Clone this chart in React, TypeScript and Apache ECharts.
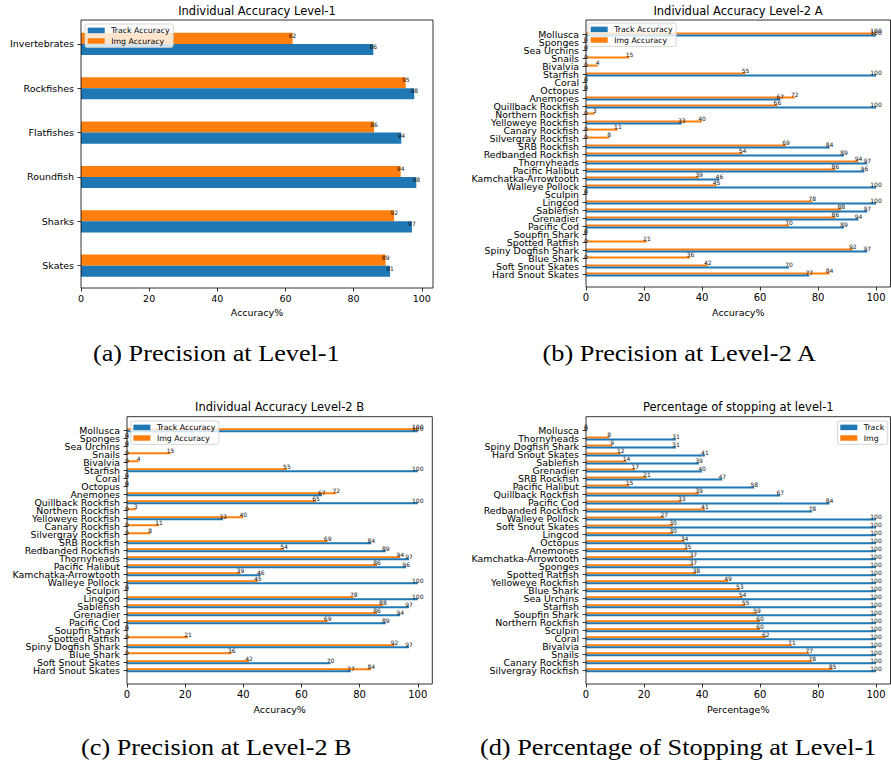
import React, { useEffect, useRef } from 'react';
import * as echarts from 'echarts';

// ---------------- data ----------------
const level1Categories = ['Invertebrates', 'Rockfishes', 'Flatfishes', 'Roundfish', 'Sharks', 'Skates'];
const level1Track = [85.8, 97.8, 94.0, 98.4, 97.1, 90.7];
const level1Img = [62.1, 95.3, 86.0, 93.8, 91.9, 89.4];

const level2Categories = [
  'Mollusca', 'Sponges', 'Sea Urchins', 'Snails', 'Bivalvia', 'Starfish', 'Coral', 'Octopus', 'Anemones',
  'Quillback Rockfish', 'Northern Rockfish', 'Yelloweye Rockfish', 'Canary Rockfish', 'Silvergray Rockfish',
  'SRB Rockfish', 'Redbanded Rockfish', 'Thornyheads', 'Pacific Halibut', 'Kamchatka-Arrowtooth',
  'Walleye Pollock', 'Sculpin', 'Lingcod', 'Sablefish', 'Grenadier', 'Pacific Cod', 'Soupfin Shark',
  'Spotted Ratfish', 'Spiny Dogfish Shark', 'Blue Shark', 'Soft Snout Skates', 'Hard Snout Skates',
];
const level2ATrack = [100, 0, 0, 0, 0, 100, 0, 0, 67, 100, 0, 33, 0, 0, 84, 89, 97, 96, 46, 100, 0, 100, 97, 94, 89, 0, 0, 97, 0, 70, 77];
const level2AImg = [100, 0, 0, 15, 4, 55, 0, 0, 72, 66, 3, 40, 11, 8, 69, 54, 94, 86, 39, 45, 0, 78, 88, 86, 70, 0, 21, 92, 36, 42, 84];
const level2BTrack = [100, 0, 0, 0, 0, 100, 0, 0, 67, 100, 0, 33, 0, 0, 84, 89, 97, 96, 46, 100, 0, 100, 97, 94, 89, 0, 0, 97, 0, 70, 77];
const level2BImg = [100, 0, 0, 15, 4, 55, 0, 0, 72, 65, 3, 40, 11, 8, 69, 54, 94, 86, 39, 45, 0, 78, 88, 86, 69, 0, 21, 92, 36, 42, 84];

const stopCategories = [
  'Mollusca', 'Thornyheads', 'Spiny Dogfish Shark', 'Hard Snout Skates', 'Sablefish', 'Grenadier',
  'SRB Rockfish', 'Pacific Halibut', 'Quillback Rockfish', 'Pacific Cod', 'Redbanded Rockfish',
  'Walleye Pollock', 'Soft Snout Skates', 'Lingcod', 'Octopus', 'Anemones', 'Kamchatka-Arrowtooth',
  'Sponges', 'Spotted Ratfish', 'Yelloweye Rockfish', 'Blue Shark', 'Sea Urchins', 'Starfish',
  'Soupfin Shark', 'Northern Rockfish', 'Sculpin', 'Coral', 'Bivalvia', 'Snails', 'Canary Rockfish',
  'Silvergray Rockfish',
];
const stopTrack = [0, 31, 31, 41, 39, 40, 47, 58, 67, 84, 78, 100, 100, 100, 100, 100, 100, 100, 100, 100, 100, 100, 100, 100, 100, 100, 100, 100, 100, 100, 100];
const stopImg = [0, 8, 9, 12, 14, 17, 21, 15, 39, 33, 41, 27, 30, 30, 34, 35, 37, 37, 38, 49, 53, 54, 55, 59, 60, 60, 62, 71, 77, 78, 85];

const xTickValues = [0, 20, 40, 60, 80, 100];

const panelTitles = [
  'Individual Accuracy Level-1',
  'Individual Accuracy Level-2 A',
  'Individual Accuracy Level-2 B',
  'Percentage of stopping at level-1',
];
const axisNames = ['Accuracy%', 'Accuracy%', 'Accuracy%', 'Percentage%'];
const captions = [
  '(a) Precision at Level-1',
  '(b) Precision at Level-2 A',
  '(c) Precision at Level-2 B',
  '(d) Percentage of Stopping at Level-1',
];
const accLegend = ['Track Accuracy', 'Img Accuracy'];
const stopLegend = ['Track', 'Img'];

// ---------------- layout / style ----------------
const W = 891;
const H = 764;
const BLUE = '#1f77b4';
const ORANGE = '#ff7f0e';
const SANS = 'DejaVu Sans';
const SERIF = 'Liberation Serif';

type Layout = {
  frame: [number, number, number, number];
  firstTick: number;
  lastTick: number;
  xMax: number;
  yFont: number;
  xFont: number;
  legend: any;
  titleX: number;
  titleY: number;
  nameY: number;
};

const layouts: Layout[] = [
  { frame: [81, 20, 433, 288], firstTick: 43.9, lastTick: 265.7, xMax: 103.3, yFont: 9.5, xFont: 9.5, legend: { left: 85, top: 24 }, titleX: 257, titleY: 11, nameY: 312.5 },
  { frame: [586, 20, 890.5, 287], firstTick: 34.6, lastTick: 274.6, xMax: 105, yFont: 9.4, xFont: 10, legend: { left: 588, top: 23 }, titleX: 738, titleY: 11, nameY: 312.5 },
  { frame: [127, 416.7, 432.3, 684], firstTick: 430.3, lastTick: 670.2, xMax: 105, yFont: 9.4, xFont: 10, legend: { left: 130.7, top: 421 }, titleX: 279.6, titleY: 406.7, nameY: 709 },
  { frame: [586, 416.7, 890.5, 684], firstTick: 430.5, lastTick: 670.2, xMax: 105, yFont: 9.4, xFont: 10, legend: { right: 3.3, top: 421 }, titleX: 738.3, titleY: 406.7, nameY: 709 },
];

const captionPos = [
  { cx: 216.3, w: 247, y: 353.5 },
  { cx: 679.2, w: 275, y: 353.5 },
  { cx: 216.3, w: 270.5, y: 747.5 },
  { cx: 678.2, w: 397, y: 747.5 },
];

const panelData = [
  { cats: level1Categories, track: level1Track, img: level1Img, names: accLegend },
  { cats: level2Categories, track: level2ATrack, img: level2AImg, names: accLegend },
  { cats: level2Categories, track: level2BTrack, img: level2BImg, names: accLegend },
  { cats: stopCategories, track: stopTrack, img: stopImg, names: stopLegend },
];

function measureWidth(text: string, font: string): number {
  const c = document.createElement('canvas').getContext('2d');
  if (!c) return 0;
  c.font = font;
  return c.measureText(text).width;
}

function buildOption() {
  const grid: any[] = [];
  const xAxis: any[] = [];
  const yAxis: any[] = [];
  const series: any[] = [];
  const legend: any[] = [];
  const graphic: any[] = [];

  layouts.forEach((L, i) => {
    const d = panelData[i];
    const n = d.cats.length;
    const band = (L.lastTick - L.firstTick) / (n - 1);
    const gTop = L.firstTick - band / 2;
    const gBottom = L.lastTick + band / 2;
    const [fl, ft, fr, fb] = L.frame;
    grid.push({ left: fl, right: W - fr, top: gTop, bottom: H - gBottom, containLabel: false });
    xAxis.push({
      type: 'value',
      gridIndex: i,
      min: 0,
      max: L.xMax,
      offset: fb - gBottom,
      axisLine: { show: false },
      splitLine: { show: false },
      axisTick: { show: true, length: 3.5, customValues: xTickValues, lineStyle: { color: '#000', width: 0.8 } },
      axisLabel: { customValues: xTickValues, fontSize: L.xFont, fontFamily: SANS, color: '#000', margin: 5.3 },
    });
    yAxis.push({
      type: 'category',
      gridIndex: i,
      inverse: true,
      data: d.cats,
      axisLine: { show: false },
      axisTick: { show: true, alignWithLabel: true, length: 3.5, lineStyle: { color: '#000', width: 0.8 } },
      axisLabel: { interval: 0, fontSize: L.yFont, fontFamily: SANS, color: '#000', margin: 7 },
      splitLine: { show: false },
    });
    const barW = band * 0.25;
    const label = {
      show: true,
      position: ['100%', '50%'],
      align: 'center',
      verticalAlign: 'bottom',
      fontSize: 6,
      fontFamily: SANS,
      color: '#111',
      formatter: (p: any) => String(Math.round(p.value)),
    };
    series.push({
      type: 'bar', name: d.names[1], data: d.img, xAxisIndex: i, yAxisIndex: i,
      barWidth: barW, barGap: '0%', itemStyle: { color: ORANGE }, label, emphasis: { disabled: true },
    });
    series.push({
      type: 'bar', name: d.names[0], data: d.track, xAxisIndex: i, yAxisIndex: i,
      barWidth: barW, barGap: '0%', itemStyle: { color: BLUE }, label, emphasis: { disabled: true },
    });
    legend.push({
      ...L.legend,
      data: d.names,
      orient: 'vertical',
      icon: 'rect',
      itemWidth: 17,
      itemHeight: 5.5,
      itemGap: 2.6,
      padding: [2.4, 3.5, 2.4, 2.7],
      backgroundColor: 'rgba(255,255,255,0.8)',
      borderColor: '#cccccc',
      borderWidth: 0.8,
      borderRadius: 2,
      selectedMode: false,
      textStyle: { fontSize: 7.8, fontFamily: SANS, color: '#000', padding: [0, 0, 0, 1.5] },
    });
    // frame
    graphic.push({
      type: 'rect', z: 100, silent: true,
      shape: { x: fl, y: ft, width: fr - fl, height: fb - ft },
      style: { fill: 'none', stroke: '#000', lineWidth: 0.8 },
    });
    // title
    graphic.push({
      type: 'text', z: 100, silent: true, x: L.titleX, y: L.titleY,
      style: { text: panelTitles[i], fontSize: 11.5, fontFamily: SANS, fill: '#000', align: 'center', verticalAlign: 'middle', textAlign: 'center', textVerticalAlign: 'middle' },
    });
    // axis name
    graphic.push({
      type: 'text', z: 100, silent: true, x: (fl + fr) / 2, y: L.nameY,
      style: { text: axisNames[i], fontSize: 9.5, fontFamily: SANS, fill: '#000', align: 'center', verticalAlign: 'middle', textAlign: 'center', textVerticalAlign: 'middle' },
    });
    // caption
    const cp = captionPos[i];
    const capSize = 22.5;
    const mw = measureWidth(captions[i], `${capSize}px "${SERIF}"`);
    const sx = mw > 0 ? cp.w / mw : 1;
    graphic.push({
      type: 'text', z: 100, silent: true, x: cp.cx, y: cp.y, scaleX: sx,
      style: { text: captions[i], fontSize: capSize, fontFamily: SERIF, fill: '#000', align: 'center', verticalAlign: 'middle', textAlign: 'center', textVerticalAlign: 'middle' },
    });
  });

  return {
    animation: false,
    backgroundColor: '#ffffff',
    grid,
    xAxis,
    yAxis,
    series,
    legend,
    graphic: { elements: graphic },
  };
}

export default function App() {
  const ref = useRef<HTMLDivElement | null>(null);
  useEffect(() => {
    if (!ref.current) return;
    const chart = echarts.init(ref.current, undefined, { renderer: 'svg', width: W, height: H });
    chart.setOption(buildOption() as any);
    return () => {
      chart.dispose();
    };
  }, []);
  return (
    <div
      ref={ref}
      style={{ position: 'absolute', left: 0, top: 0, width: W, height: H, background: '#fff' }}
    />
  );
}
